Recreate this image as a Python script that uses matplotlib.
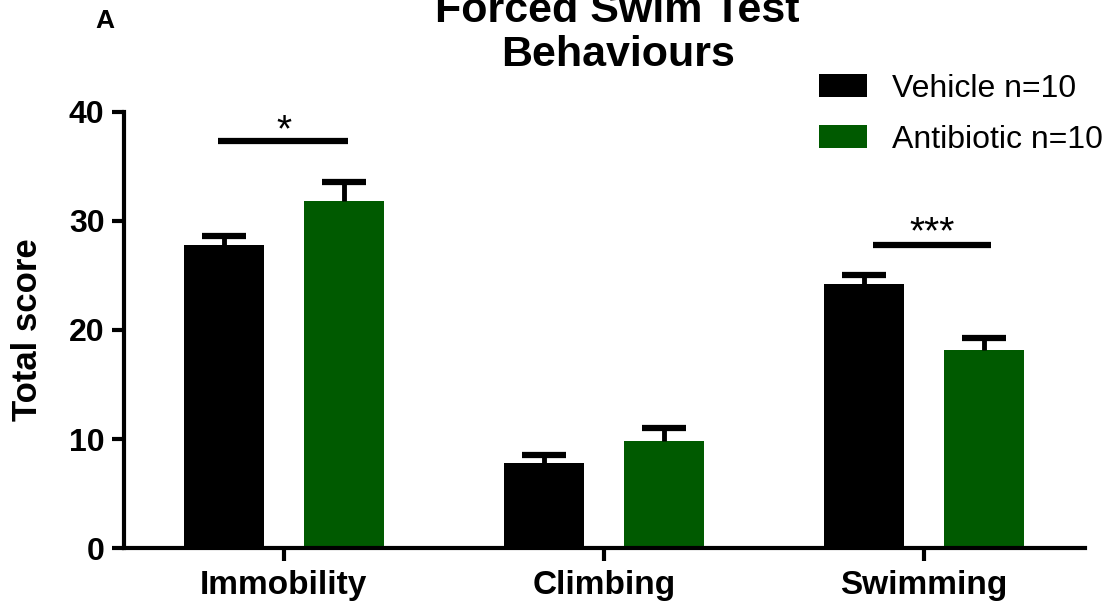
import numpy as np
import matplotlib.pyplot as plt

plt.rcParams['font.family'] = ['Liberation Sans', 'DejaVu Sans']

categories = ['Immobility', 'Climbing', 'Swimming']
vehicle = [27.8, 7.8, 24.2]
vehicle_sem = [0.85, 0.75, 0.8]
antibiotic = [31.8, 9.8, 18.2]
antibiotic_sem = [1.75, 1.2, 1.1]
labels = ['Vehicle n=10', 'Antibiotic n=10']

green = '#005a00'
x = np.arange(len(categories))
w = 0.25
off = 0.1875

fig = plt.figure(figsize=(11.09, 6.05), dpi=100)
ax = fig.add_axes([0.1118, 0.0942, 0.8662, 0.7207])

eb = dict(ecolor='black', elinewidth=3.5, capsize=15.5, capthick=4.5)
b1 = ax.bar(x - off, vehicle, w, color='black', label=labels[0],
            yerr=[np.zeros(3), vehicle_sem], error_kw=eb)
b2 = ax.bar(x + off, antibiotic, w, color=green, label=labels[1],
            yerr=[np.zeros(3), antibiotic_sem], error_kw=eb)
# only upper caps
for b in (b1, b2):
    b.errorbar.lines[1][0].set_visible(False)

ax.set_xlim(-0.5, 2.503)
ax.set_ylim(0, 40)
ax.set_yticks([0, 10, 20, 30, 40])
ax.set_xticks(x)
ax.set_xticklabels(categories, fontsize=24, fontweight='bold')
for t in ax.get_yticklabels():
    t.set_fontsize(23)
    t.set_fontweight('bold')
ax.tick_params(axis='both', width=3, length=9, pad=5)
ax.tick_params(axis='x', pad=7)
for s in ['top', 'right']:
    ax.spines[s].set_visible(False)
for s in ['left', 'bottom']:
    ax.spines[s].set_linewidth(3)
ax.set_ylabel('Total score', fontsize=25, fontweight='bold', labelpad=18)

# significance bars
ax.plot([-0.206, 0.2], [37.3, 37.3], color='black', lw=4.5, solid_capstyle='butt')
ax.text(0.0, 37.3, '*', ha='center', va='baseline', fontsize=28)
ax.plot([1.84, 2.21], [27.8, 27.8], color='black', lw=4.5, solid_capstyle='butt')
ax.text(2.025, 27.95, '***', ha='center', va='baseline', fontsize=28)

leg = ax.legend(loc='upper left', bbox_to_anchor=(0.724, 1.088), frameon=False,
                fontsize=23, handlelength=1.5, handleheight=0.69,
                labelspacing=0.66, handletextpad=0.78,
                borderpad=0, borderaxespad=0)

fig.text(0.557, 0.876, 'Forced Swim Test\nBehaviours', ha='center', va='bottom',
         fontsize=31, fontweight='bold', linespacing=1.12)
fig.text(0.0947, 0.965, 'A', ha='center', va='center', fontsize=19, fontweight='bold')

fig.savefig('out.png', dpi=100)
